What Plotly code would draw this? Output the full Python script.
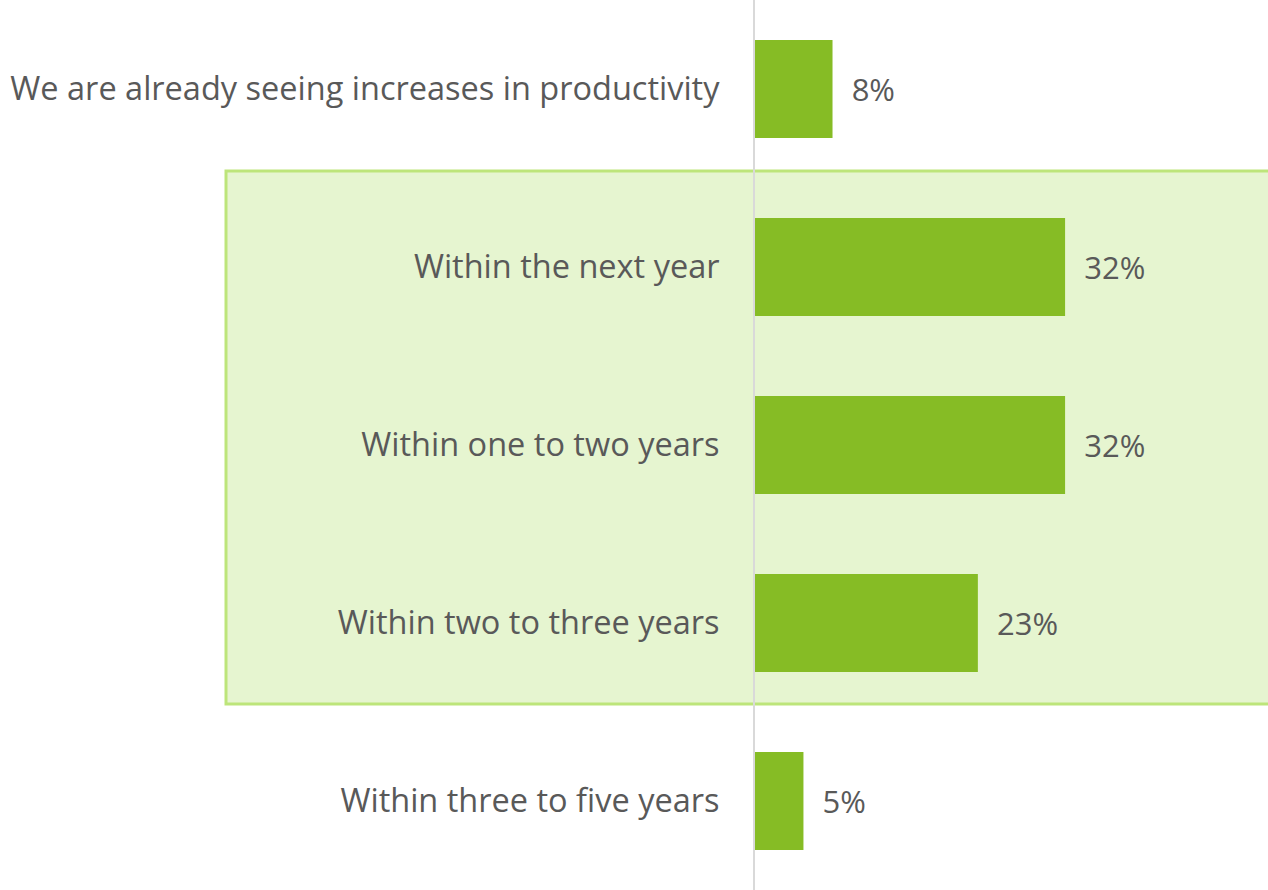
import plotly.graph_objects as go

categories = [
    "We are already seeing increases in productivity",
    "Within the next year",
    "Within one to two years",
    "Within two to three years",
    "Within three to five years",
]
values = [8, 32, 32, 23, 5]
value_labels = ["8%", "32%", "32%", "23%", "5%"]

GREEN = "#86BC25"
TEXT = "#595959"

fig = go.Figure()
fig.add_trace(go.Bar(
    x=values,
    y=categories,
    orientation="h",
    marker=dict(color=GREEN, line=dict(width=0)),
    width=0.55,
    text=["\u00a0\u00a0" + t for t in value_labels],
    textposition="outside",
    constraintext="none",
    textfont=dict(family="Open Sans", size=31, color=TEXT),
    cliponaxis=False,
    hoverinfo="skip",
))

# highlighted group (next year .. two to three years)
fig.add_shape(
    type="rect", xref="paper", yref="y",
    x0=(226 - 755) / 513, x1=1.02,
    y0=0.46, y1=3.455,
    fillcolor="#E6F5D0",
    line=dict(color="#BDE57A", width=3),
    layer="below",
)

fig.update_layout(
    width=1268, height=890,
    margin=dict(l=755, r=0, t=0, b=0),
    paper_bgcolor="white",
    plot_bgcolor="rgba(0,0,0,0)",
    showlegend=False,
    xaxis=dict(range=[0, 513 / 9.69], visible=False, fixedrange=True),
    yaxis=dict(
        autorange="reversed",
        showline=True, linecolor="#D9D9D9", linewidth=2,
        showgrid=False, zeroline=False,
        ticks="", ticklabelstandoff=27,
        tickfont=dict(family="Open Sans", size=32.5, color=TEXT),
        fixedrange=True,
    ),
)

fig.write_html("out.html")
